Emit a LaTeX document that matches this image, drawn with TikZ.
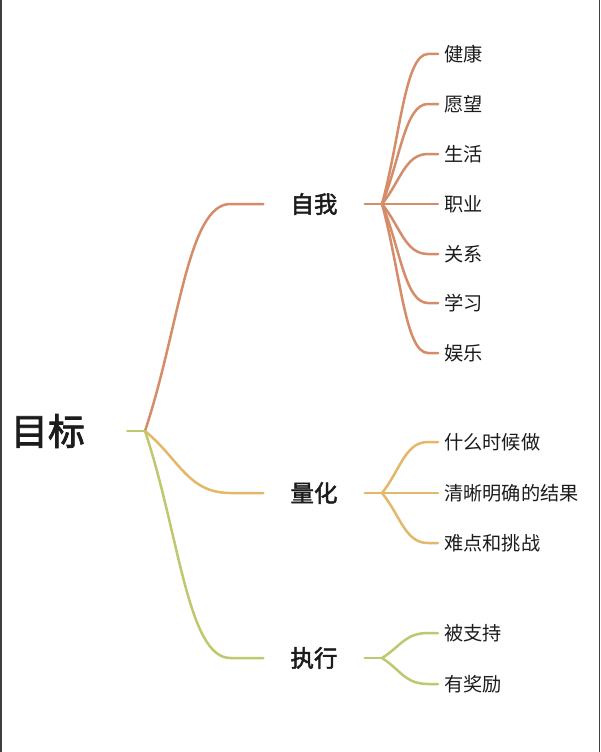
\documentclass[tikz,border=0pt]{standalone}
\usepackage{fontspec}
\setmainfont{Noto Sans CJK SC}
\newfontfamily\midfont{Noto Sans CJK SC}[FakeBold=2]
\usetikzlibrary{calc}
\definecolor{selfc}{HTML}{D48C69}
\definecolor{quantc}{HTML}{E4B869}
\definecolor{actc}{HTML}{C0C86E}
\definecolor{inkc}{HTML}{1C1C1C}

\begin{document}
\begin{tikzpicture}[x=1pt, y=-1pt,
  root/.style={font=\fontsize{37}{40}\selectfont\midfont, text=inkc, inner xsep=42pt, inner ysep=0pt},
  topic/.style={font=\fontsize{23.5}{26}\selectfont\midfont, text=inkc, inner xsep=27pt, inner ysep=0pt},
  leaf/.style={font=\fontsize{19.2}{21}\selectfont, text=inkc, anchor=west, inner xsep=6pt, inner ysep=0pt},
  edge/.style={line width=2.5pt, line cap=round},
  branch/.style={to path={let \p1=(\tikztostart), \p2=(\tikztotarget) in
    .. controls ({\x1+0.4*(\x2-\x1-#1)},{\y1+0.45*(\y2-\y1)}) and ({\x1+0.5*(\x2-\x1-#1)},\y2) .. ({\x2-#1},\y2) -- (\tikztotarget)}}
]
\useasboundingbox (0,0) rectangle (600,752);
\fill[white] (0,0) rectangle (600,752);
\draw[line width=1.5pt, draw=black!75] (0.75,0) -- (0.75,752);
\draw[line width=1.5pt, draw=black!75] (599.25,0) -- (599.25,752);

\node[root] (n0) at (48,431) {目标};
\coordinate (h0) at (145,431);

\node[topic] (n1) at (314,204) {自我};
\node[topic] (n2) at (314,493) {量化};
\node[topic] (n3) at (314,658) {执行};
\coordinate (h1) at (382,204);
\coordinate (h2) at (382,493);
\coordinate (h3) at (382,658);

\node[leaf] (n11) at (438,54) {健康};
\node[leaf] (n12) at (438,104) {愿望};
\node[leaf] (n13) at (438,154) {生活};
\node[leaf] (n14) at (438,204) {职业};
\node[leaf] (n15) at (438,254) {关系};
\node[leaf] (n16) at (438,303) {学习};
\node[leaf] (n17) at (438,353) {娱乐};
\node[leaf] (n21) at (438,442) {什么时候做};
\node[leaf] (n22) at (438,493) {清晰明确的结果};
\node[leaf] (n23) at (438,543) {难点和挑战};
\node[leaf] (n31) at (438,633) {被支持};
\node[leaf] (n32) at (438,684) {有奖励};

\draw[edge, actc] (n0.east) -- (h0);
\draw[edge, selfc] (h0) to[branch=33] (n1.west);
\draw[edge, quantc] (h0) to[branch=33] (n2.west);
\draw[edge, actc] (h0) to[branch=33] (n3.west);

\draw[edge, selfc] (n1.east) -- (h1);
\draw[edge, quantc] (n2.east) -- (h2);
\draw[edge, actc] (n3.east) -- (h3);

\foreach \c in {n11,n12,n13,n14,n15,n16,n17}
  \draw[edge, selfc] (h1) to[branch=10] (\c.west);
\foreach \c in {n21,n22,n23}
  \draw[edge, quantc] (h2) to[branch=10] (\c.west);
\foreach \c in {n31,n32}
  \draw[edge, actc] (h3) to[branch=10] (\c.west);
\end{tikzpicture}
\end{document}
